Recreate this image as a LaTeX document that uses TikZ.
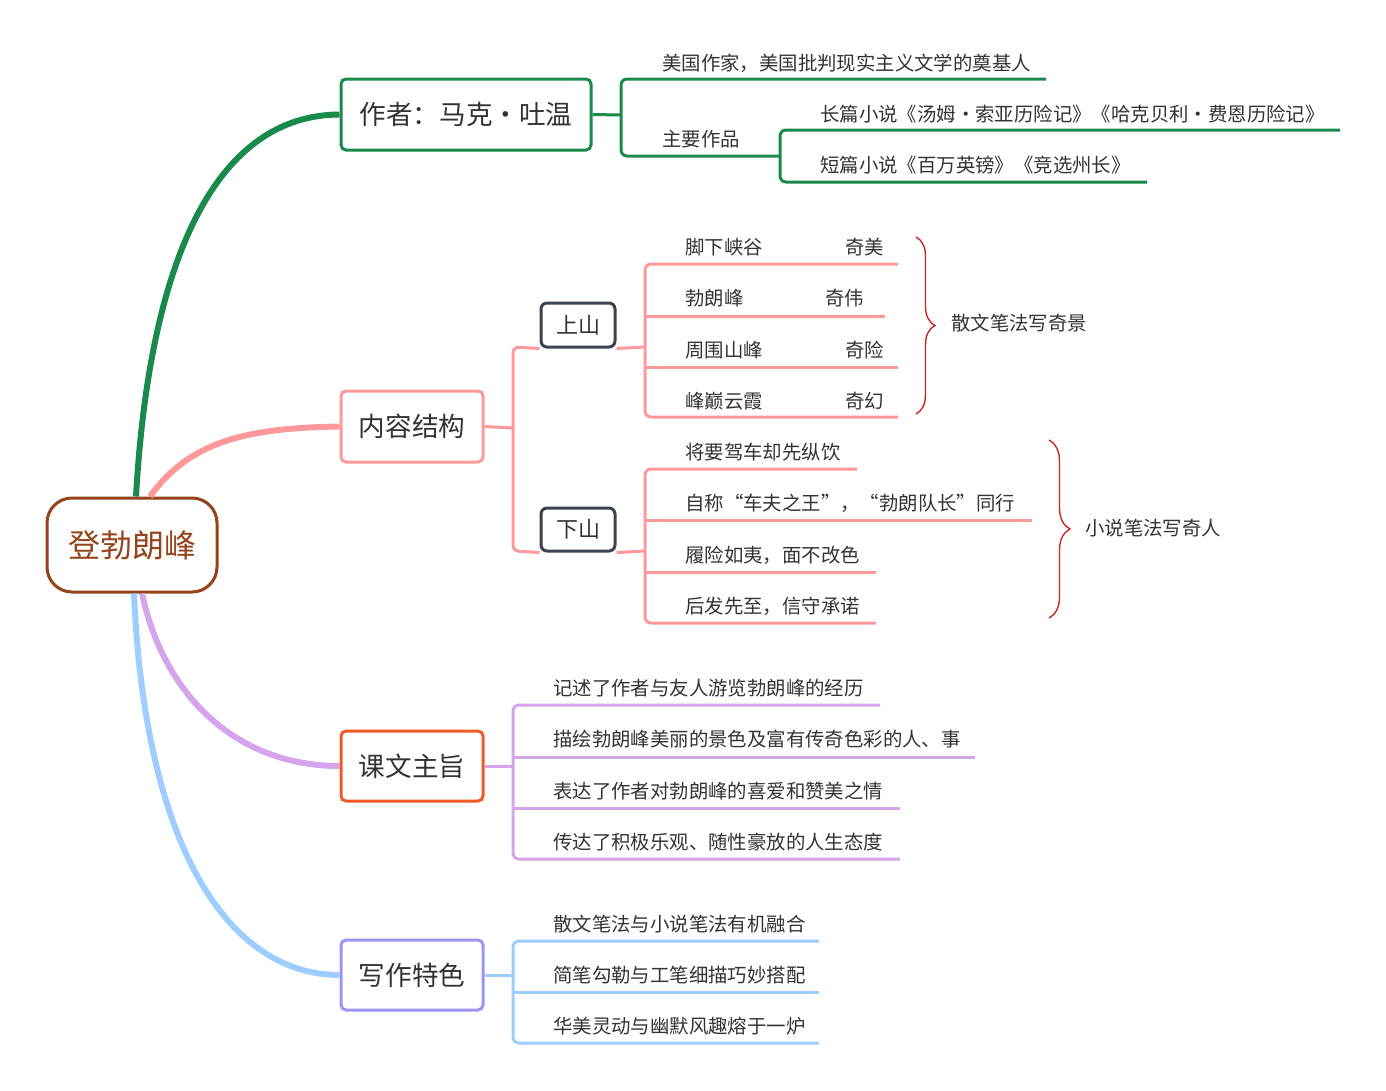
\documentclass[tikz,border=0pt]{standalone}
\usepackage{fontspec}
\setmainfont{Noto Sans CJK SC}
\usetikzlibrary{decorations.pathreplacing}
\definecolor{cgreen}{RGB}{26,138,76}
\definecolor{cbrown}{RGB}{148,67,26}
\definecolor{cpink}{RGB}{255,153,153}
\definecolor{corange}{RGB}{240,90,40}
\definecolor{cviolet}{RGB}{155,150,245}
\definecolor{cpurple}{RGB}{212,165,235}
\definecolor{cblue}{RGB}{158,206,255}
\definecolor{cdark}{RGB}{60,67,80}
\definecolor{cred}{RGB}{200,40,40}
\definecolor{ctext}{RGB}{51,51,51}
\begin{document}
\begin{tikzpicture}[x=1pt,y=-1pt,
  txt/.style={anchor=west,inner sep=0pt,text=ctext,font=\fontsize{19.4}{22}\selectfont},
  lvlbox/.style={draw,line width=3pt,rounded corners=5pt,minimum height=71pt,inner sep=0pt,text=ctext,font=\fontsize{26.6}{30}\selectfont},
  subbox/.style={draw=cdark,line width=3pt,rounded corners=6pt,minimum width=74pt,minimum height=44pt,inner sep=0pt,text=ctext,font=\fontsize{22}{26}\selectfont},
  mainline/.style={line width=6pt},
  subline/.style={line width=3pt,rounded corners=6pt},
  bracestyle/.style={draw=cred,line width=1.4pt,decorate},
]
\useasboundingbox (0,0) rectangle (1386,1090);

% root
\node[draw=cbrown,line width=3pt,rounded corners=25pt,minimum width=170pt,minimum height=94pt,text=cbrown,font=\fontsize{32}{36}\selectfont] (root) at (132,545) {登勃朗峰};

% level 1
\node[lvlbox,draw=cgreen,minimum width=250pt] (author) at (466,114.5) {作者：马克·吐温};
\node[lvlbox,draw=cpink,minimum width=142pt] (content) at (412,426.5) {内容结构};
\node[lvlbox,draw=corange,minimum width=142pt,minimum height=70pt] (theme) at (412,766) {课文主旨};
\node[lvlbox,draw=cviolet,minimum width=142pt,minimum height=70pt] (style) at (412,975) {写作特色};

% main curves
\draw[mainline,cgreen] ([xshift=4pt]root.north) .. controls (150,250) and (220,115) .. (author.west);
\draw[mainline,cpink] ([xshift=18pt]root.north) .. controls (190,440) and (250,428) .. (content.west);
\draw[mainline,cpurple] ([xshift=10pt]root.south) .. controls (165,700) and (240,766) .. (theme.west);
\draw[mainline,cblue] ([xshift=2pt]root.south) .. controls (145,850) and (230,975) .. (style.west);

% author branch
\coordinate (aj) at (621,115);
\coordinate (wj) at (780,156);
\draw[subline,cgreen] (author.east) -- (aj);
\draw[subline,cgreen] (1046,79) -- (621,79) -- (621,156) -- (wj);
\draw[subline,cgreen] (1340,130) -- (780,130) -- (780,182) -- (1147,182);
\node[txt] (a1) at (662,63) {美国作家，美国批判现实主义文学的奠基人};
\node[txt] (a2) at (662,139) {主要作品};
\node[txt] (a21) at (820,114) {长篇小说《汤姆·索亚历险记》《哈克贝利·费恩历险记》};
\node[txt] (a22) at (820,165) {短篇小说《百万英镑》《竞选州长》};

% content branch
\coordinate (cj) at (513,428);
\draw[subline,cpink] (content.east) -- (cj);
\node[subbox] (up) at (578,325) {上山};
\node[subbox,minimum height=43pt] (down) at (578,529.5) {下山};
\draw[subline,cpink] (up.south west) -- (513,347) -- (513,551) -- (down.south west);
\coordinate (uj) at (645,347);
\coordinate (dj) at (645,551);
\draw[subline,cpink] (up.south east) -- (uj);
\draw[subline,cpink] (down.south east) -- (dj);
\draw[subline,cpink] (898,264) -- (645,264) -- (645,417) -- (898,417);
\draw[subline,cpink] (645,316) -- (885,316);
\draw[subline,cpink] (645,367) -- (898,367);
\node[txt] (u1) at (685,247) {脚下峡谷};
\node[txt] (u1b) at (845,247) {奇美};
\node[txt] (u2) at (685,298) {勃朗峰};
\node[txt] (u2b) at (825,298) {奇伟};
\node[txt] (u3) at (685,350) {周围山峰};
\node[txt] (u3b) at (845,350) {奇险};
\node[txt] (u4) at (685,401) {峰巅云霞};
\node[txt] (u4b) at (845,401) {奇幻};
\draw[bracestyle,decoration={brace,amplitude=19pt}] (916,237) -- (916,414);
\node[txt] (b1) at (951,323) {散文笔法写奇景};

\draw[subline,cpink] (857,469) -- (645,469) -- (645,623) -- (876,623);
\draw[subline,cpink] (645,520) -- (1032,520);
\draw[subline,cpink] (645,572) -- (876,572);
\node[txt] (d1) at (685,452) {将要驾车却先纵饮};
\node[txt] (d2) at (685,503) {自称“车夫之王”，“勃朗队长”同行};
\node[txt] (d3) at (685,555) {履险如夷，面不改色};
\node[txt] (d4) at (685,606) {后发先至，信守承诺};
\draw[bracestyle,decoration={brace,amplitude=21pt}] (1049,440) -- (1049,618);
\node[txt] (b2) at (1085,528) {小说笔法写奇人};

% theme branch
\coordinate (tj) at (513,766);
\draw[subline,cpurple] (theme.east) -- (tj);
\draw[subline,cpurple] (880,705) -- (513,705) -- (513,859) -- (900,859);
\draw[subline,cpurple] (513,757) -- (975,757);
\draw[subline,cpurple] (513,808) -- (900,808);
\node[txt] (t1) at (553,688) {记述了作者与友人游览勃朗峰的经历};
\node[txt] (t2) at (553,739) {描绘勃朗峰美丽的景色及富有传奇色彩的人、事};
\node[txt] (t3) at (553,791) {表达了作者对勃朗峰的喜爱和赞美之情};
\node[txt] (t4) at (553,842) {传达了积极乐观、随性豪放的人生态度};

% style branch
\coordinate (sj) at (513,975);
\draw[subline,cblue] (style.east) -- (sj);
\draw[subline,cblue] (819,941) -- (513,941) -- (513,1043) -- (819,1043);
\draw[subline,cblue] (513,992) -- (819,992);
\node[txt] (s1) at (553,924) {散文笔法与小说笔法有机融合};
\node[txt] (s2) at (553,975) {简笔勾勒与工笔细描巧妙搭配};
\node[txt] (s3) at (553,1026) {华美灵动与幽默风趣熔于一炉};
\end{tikzpicture}
\end{document}
